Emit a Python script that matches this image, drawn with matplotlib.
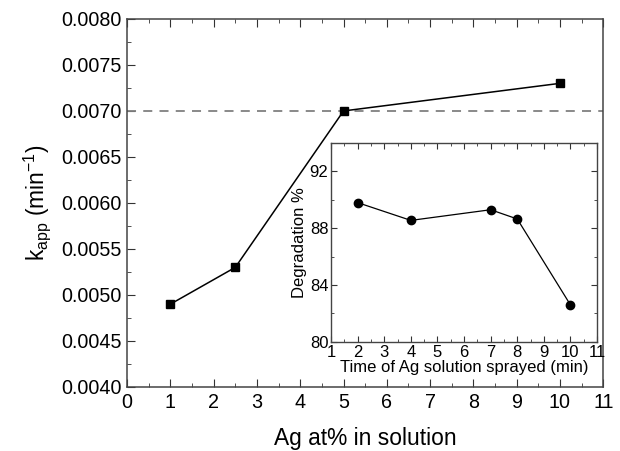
import matplotlib

matplotlib.use("Agg")
import matplotlib.pyplot as plt
from matplotlib.ticker import MultipleLocator, FormatStrFormatter

plt.rcParams["font.family"] = ["Liberation Sans", "DejaVu Sans"]
plt.rcParams["mathtext.fontset"] = "custom"
plt.rcParams["mathtext.rm"] = "Liberation Sans"
plt.rcParams["mathtext.default"] = "regular"

# main plot: rate constant vs Ag content
ag_pct = [1, 2.5, 5, 10]
k_app = [0.0049, 0.0053, 0.0070, 0.0073]
k_ref = 0.0070

# inset: degradation vs spray time
spray_min = [2, 4, 7, 8, 10]
degradation = [89.8, 88.55, 89.3, 88.65, 82.6]

fig = plt.figure(figsize=(6.2, 4.51), dpi=100)
ax = fig.add_axes([0.205, 0.142, 0.768, 0.816])

ax.plot(ag_pct, k_app, color="black", linewidth=1.1, marker="s",
        markersize=6, markerfacecolor="black", zorder=3)
ax.axhline(k_ref, color="#808080", linestyle=(0, (5, 4)), linewidth=1.3)

ax.set_xlim(0, 11)
ax.set_ylim(0.0040, 0.0080)
ax.xaxis.set_major_locator(MultipleLocator(1))
ax.xaxis.set_minor_locator(MultipleLocator(0.5))
ax.yaxis.set_major_locator(MultipleLocator(0.0005))
ax.yaxis.set_minor_locator(MultipleLocator(0.00025))
ax.yaxis.set_major_formatter(FormatStrFormatter("%.4f"))
ax.tick_params(which="both", direction="in", top=True, right=False,
               color="#333333")
ax.tick_params(which="major", length=6, labelsize=14.2, pad=4)
ax.tick_params(which="minor", length=3)
for sp in ax.spines.values():
    sp.set_color("#444444")
    sp.set_linewidth(1.1)

ax.set_xlabel("Ag at% in solution", fontsize=16.4, labelpad=11)
ax.set_ylabel(r"k$_{app}$ (min$^{-1}$)", fontsize=16.4, labelpad=6)

ins = fig.add_axes([0.534, 0.242, 0.429, 0.441])
ins.plot(spray_min, degradation, color="black", linewidth=0.9, marker="o",
         markersize=6, markerfacecolor="black", zorder=3)
ins.set_xlim(1, 11)
ins.set_ylim(80, 94)
ins.xaxis.set_major_locator(MultipleLocator(1))
ins.xaxis.set_minor_locator(MultipleLocator(0.5))
ins.yaxis.set_major_locator(MultipleLocator(4))
ins.yaxis.set_minor_locator(MultipleLocator(2))
ins.tick_params(which="both", direction="in", top=True, right=True,
                color="#333333")
ins.tick_params(which="major", length=4, labelsize=12, pad=2)
ins.tick_params(which="minor", length=2)
for sp in ins.spines.values():
    sp.set_color("#444444")
    sp.set_linewidth(1.0)
ins.set_xlabel("Time of Ag solution sprayed (min)", fontsize=12, labelpad=0)
ins.set_ylabel("Degradation %", fontsize=12, labelpad=2)

fig.savefig("out.png", dpi=100)
